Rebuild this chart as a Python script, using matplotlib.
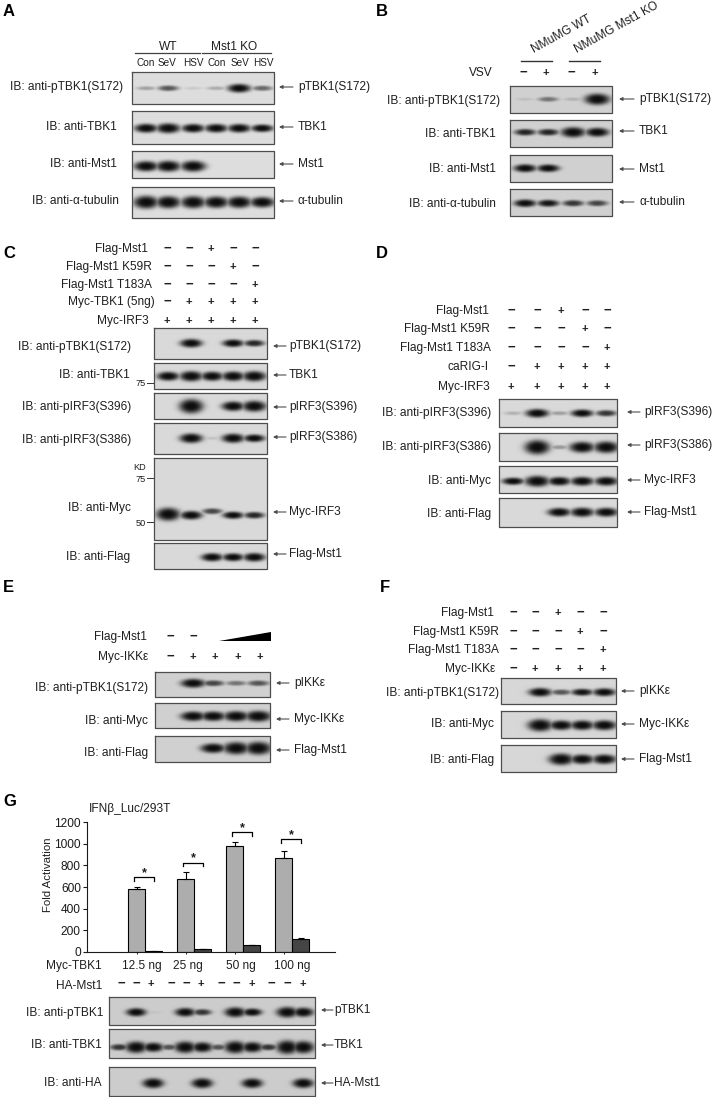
#!/usr/bin/env python3
"""
Immunoblot panels A-F plus the IFNb luciferase bar chart with blots (G).
Everything outside the bar chart is placed in image pixels on one full axes.
"""

import numpy as np
import matplotlib
matplotlib.use("Agg")
import matplotlib.pyplot as plt

plt.rcParams.update({
    "font.family": ["Liberation Sans", "DejaVu Sans"],
    "font.size": 8.5,
    "text.color": "0.12",
    "axes.edgecolor": "0.1",
    "xtick.color": "0.1",
    "ytick.color": "0.1",
})

W, H = 715, 1097
FS = 8.6
INK = "0.12"

# --------------------------------------------------------------------------- #
# Data: labels and band strengths (0 = no band, above 1 = thick saturated band)
# --------------------------------------------------------------------------- #
A_LEFT = ["IB: anti-pTBK1(S172)", "IB: anti-TBK1", "IB: anti-Mst1", "IB: anti-α-tubulin"]
A_RIGHT = ["pTBK1(S172)", "TBK1", "Mst1", "α-tubulin"]
A_GROUPS = ["WT", "Mst1 KO"]
A_LANES = ["Con", "SeV", "HSV", "Con", "SeV", "HSV"]
A_LEVELS = [[.18, .40, .06, .15, .85, .35],
            [.90, 1.05, .85, .85, .85, .70],
            [1.1, 1.2, 1.2, 0, 0, 0],
            [1.5, 1.4, 1.4, 1.3, 1.3, 1.15]]

B_LEFT = ["IB: anti-pTBK1(S172)", "IB: anti-TBK1", "IB: anti-Mst1", "IB: anti-α-tubulin"]
B_RIGHT = ["pTBK1(S172)", "TBK1", "Mst1", "α-tubulin"]
B_GROUPS = ["NMuMG WT", "NMuMG Mst1 KO"]
B_SIGNS = ["-", "+", "-", "+"]
B_LEVELS = [[.06, .30, .10, 1.25],
            [.55, .55, 1.1, .90],
            [.75, .70, 0, 0],
            [.70, .60, .50, .45]]

C_COND = ["Flag-Mst1", "Flag-Mst1 K59R", "Flag-Mst1 T183A", "Myc-TBK1 (5ng)", "Myc-IRF3"]
C_SIGNS = ["--+--", "---+-", "----+", "-++++", "+++++"]
C_LEFT = ["IB: anti-pTBK1(S172)", "IB: anti-TBK1", "IB: anti-pIRF3(S396)",
          "IB: anti-pIRF3(S386)", "IB: anti-Myc", "IB: anti-Flag"]
C_RIGHT = ["pTBK1(S172)", "TBK1", "pIRF3(S396)", "pIRF3(S386)", "Myc-IRF3", "Flag-Mst1"]
C_LEVELS = [[0, .85, 0, .70, .55],
            [.90, 1.1, .95, 1.0, 1.1],
            [0, 1.7, 0, 1.0, 1.2],
            [0, 1.0, .07, .95, .70],
            [1.5, .85, .45, .65, .55],
            [0, 0, .80, .75, .85]]

D_COND = ["Flag-Mst1", "Flag-Mst1 K59R", "Flag-Mst1 T183A", "caRIG-I", "Myc-IRF3"]
D_SIGNS = ["--+--", "---+-", "----+", "-++++", "+++++"]
D_LEFT = ["IB: anti-pIRF3(S396)", "IB: anti-pIRF3(S386)", "IB: anti-Myc", "IB: anti-Flag"]
D_RIGHT = ["pIRF3(S396)", "pIRF3(S386)", "Myc-IRF3", "Flag-Mst1"]
D_LEVELS = [[.12, .85, .18, .70, .50],
            [0, 1.7, .20, 1.2, 1.3],
            [.65, 1.2, .85, .90, .90],
            [0, 0, .85, .95, .90]]

E_COND = ["Flag-Mst1", "Myc-IKKε"]
E_SIGNS = ["--", "-++++"]
E_LEFT = ["IB: anti-pTBK1(S172)", "IB: anti-Myc", "IB: anti-Flag"]
E_RIGHT = ["pIKKε", "Myc-IKKε", "Flag-Mst1"]
E_LEVELS = [[0, .90, .45, .30, .40],
            [0, 1.0, 1.0, 1.1, 1.2],
            [0, 0, 1.0, 1.4, 1.5]]

F_COND = ["Flag-Mst1", "Flag-Mst1 K59R", "Flag-Mst1 T183A", "Myc-IKKε"]
F_SIGNS = ["--+--", "---+-", "----+", "-++++"]
F_LEFT = ["IB: anti-pTBK1(S172)", "IB: anti-Myc", "IB: anti-Flag"]
F_RIGHT = ["pIKKε", "Myc-IKKε", "Flag-Mst1"]
F_LEVELS = [[0, .85, .40, .60, .75],
            [0, 1.4, 1.0, 1.0, 1.05],
            [0, 0, 1.3, 1.0, 1.0]]

G_DOSES = ["12.5 ng", "25 ng", "50 ng", "100 ng"]
G_CTRL = [580, 675, 980, 865]
G_CTRL_ERR = [20, 60, 40, 70]
G_MST1 = [8, 22, 60, 120]
G_MST1_ERR = [0, 0, 2, 5]
G_BRACKET = [690, 826, 1107, 1042]
G_SIGNS = "--+--+--+--+"
G_LEFT = ["IB: anti-pTBK1", "IB: anti-TBK1", "IB: anti-HA"]
G_RIGHT = ["pTBK1", "TBK1", "HA-Mst1"]
G_LEVELS = [[0, .80, .03, 0, .85, .50, 0, 1.05, .70, 0, 1.15, .95],
            [.50, 1.3, .95, .40, 1.3, 1.05, .40, 1.4, 1.1, .50, 1.6, 1.4],
            [0, 0, 1.05, 0, 0, 1.05, 0, 0, 1.0, 0, 0, 1.0]]


# --------------------------------------------------------------------------- #
# Helpers
# --------------------------------------------------------------------------- #
def draw_blot(ax, box, lanes, band_y, levels, halfw=11, bg=0.85):
    """One membrane strip, bands rendered as soft ellipses. box = x0, y0, x1, y1."""
    x0, y0, x1, y1 = box
    xs = np.arange(x0, x1, 0.5)
    ys = np.arange(y0, y1, 0.5)
    xx, yy = np.meshgrid(xs, ys)
    dark = np.zeros_like(xx)
    band_ys = band_y if np.iterable(band_y) else [band_y] * len(lanes)
    for lane, by, lev in zip(lanes, band_ys, levels):
        if lev <= 0:
            continue
        w = halfw * (0.8 + 0.25 * min(lev, 1.2))
        h = 4.8 * (0.3 + 0.7 * lev)
        r2 = ((xx - lane) / w) ** 2 + ((yy - by) / h) ** 2
        blob = min(1.0, 1.6 * lev) * np.exp(-r2 ** 1.6)
        dark = np.maximum(dark, blob)
    img = bg - dark * (bg - 0.05)
    ax.imshow(img, extent=(x0, x1, y1, y0), cmap="gray", vmin=0, vmax=1,
              aspect="auto", interpolation="bilinear", zorder=1)
    ax.plot([x0, x1, x1, x0, x0], [y0, y0, y1, y1, y0], color="0.3", lw=0.9, zorder=2)


def arrow(ax, x0, x1, y):
    ax.annotate("", xy=(x0, y), xytext=(x1, y), zorder=3,
                arrowprops=dict(arrowstyle="-|>", color="0.3", lw=0.8,
                                mutation_scale=5, shrinkA=0, shrinkB=0))


def sign(ax, x, y, s):
    if s == "+":
        ax.text(x, y, "+", ha="center", va="center", fontsize=8, fontweight="bold")
    else:
        ax.text(x, y, "−", ha="center", va="center", fontsize=9.5, fontweight="bold")


def sign_rows(ax, labels, rights, ys, xs, rows):
    for lab, r, y, row in zip(labels, rights, ys, rows):
        ax.text(r, y, lab, ha="right", va="center", fontsize=FS)
        for x, s in zip(xs, row):
            sign(ax, x, y, s)


def side_labels(ax, left, left_x, left_y, right, arrow_x, text_x, right_y):
    for lab, x, y in zip(left, left_x, left_y):
        ax.text(x, y, lab, ha="right", va="center", fontsize=FS)
    for lab, y in zip(right, right_y):
        arrow(ax, arrow_x[0], arrow_x[1], y)
        ax.text(text_x, y, lab, ha="left", va="center", fontsize=FS)


def letter(ax, x, y, s):
    ax.text(x, y, s, ha="left", va="center", fontsize=12, fontweight="bold", color="black")


def panel_a(ax):
    letter(ax, 3, 11, "A")
    lanes = [146, 168, 193, 216, 239, 262]
    boxes = [(72, 104), (111, 144), (151, 178), (187, 218)]
    band_y = [88, 128, 166, 202]
    for (y0, y1), by, lev in zip(boxes, band_y, A_LEVELS):
        draw_blot(ax, (132, y0, 274, y1), lanes, by, lev, halfw=11.5, bg=0.87)
    ax.text(168, 47, A_GROUPS[0], ha="center", va="center", fontsize=FS)
    ax.text(234, 47, A_GROUPS[1], ha="center", va="center", fontsize=FS)
    ax.plot([135, 200], [53, 53], color="0.25", lw=0.9)
    ax.plot([202, 271], [53, 53], color="0.25", lw=0.9)
    for x, lab in zip([146, 167, 193, 217, 240, 263], A_LANES):
        ax.text(x, 63, lab, ha="center", va="center", fontsize=7.2)
    side_labels(ax, A_LEFT, [123, 117, 117, 119], [87, 127, 164, 201],
                A_RIGHT, (279, 293), 298, [87, 127, 164, 201])


def panel_b(ax):
    letter(ax, 376, 11, "B")
    lanes = [525, 548, 573, 597]
    boxes = [(86, 113), (120, 147), (155, 182), (189, 216)]
    band_y = [99, 132, 168, 203]
    for (y0, y1), by, lev in zip(boxes, band_y, B_LEVELS):
        draw_blot(ax, (510, y0, 612, y1), lanes, by, lev, halfw=11.5, bg=0.82)
    ax.text(562, 34, B_GROUPS[0], rotation=29, ha="center", va="center", fontsize=FS)
    ax.text(617, 28, B_GROUPS[1], rotation=29, ha="center", va="center", fontsize=FS)
    ax.plot([521, 552], [61, 61], color="0.2", lw=1.0)
    ax.plot([569, 600], [61, 61], color="0.2", lw=1.0)
    ax.text(493, 73, "VSV", ha="right", va="center", fontsize=FS)
    for x, s in zip([523, 546, 571, 595], B_SIGNS):
        sign(ax, x, 73, s)
    side_labels(ax, B_LEFT, [500, 496, 496, 496], [101, 134, 169, 204],
                B_RIGHT, (619, 634), 639, [99, 131, 169, 202])


def panel_c(ax):
    letter(ax, 3, 254, "C")
    sign_rows(ax, C_COND, [148, 152, 152, 155, 149], [249, 267, 285, 302, 321],
              [167, 189, 211, 233, 255], C_SIGNS)
    lanes = [168, 191, 212, 233, 254]
    boxes = [(328, 359), (363, 389), (393, 419), (423, 454), (458, 540), (543, 569)]
    band_y = [343, 376, 406, 438, [514, 515, 511, 515, 515], 557]
    for (y0, y1), by, lev in zip(boxes, band_y, C_LEVELS):
        draw_blot(ax, (154, y0, 267, y1), lanes, by, lev, halfw=11, bg=0.85)
    side_labels(ax, C_LEFT, [131, 130, 131, 131, 131, 130], [347, 375, 407, 440, 508, 557],
                C_RIGHT, (273, 286), 289, [346, 375, 407, 437, 512, 554])
    # molecular weight marks
    for y, lab in [(384, "75"), (479, "75"), (523, "50")]:
        ax.text(146, y, lab, ha="right", va="center", fontsize=6.6)
        ax.plot([147, 153], [y - 1, y - 1], color="0.2", lw=0.7)
    ax.text(140, 467, "KD", ha="center", va="center", fontsize=6.6)


def panel_d(ax):
    letter(ax, 376, 254, "D")
    sign_rows(ax, D_COND, [489, 490, 491, 489, 490], [311, 329, 348, 367, 387],
              [511, 537, 561, 585, 607], D_SIGNS)
    lanes = [513, 537, 559, 582, 606]
    boxes = [(399, 427), (433, 461), (466, 493), (498, 527)]
    band_y = [413, 447, 481, 512]
    for (y0, y1), by, lev in zip(boxes, band_y, D_LEVELS):
        draw_blot(ax, (499, y0, 617, y1), lanes, by, lev, halfw=11.5, bg=0.85)
    side_labels(ax, D_LEFT, [491] * 4, [413, 447, 481, 514],
                D_RIGHT, (627, 640), 644, [412, 445, 480, 512])


def panel_e(ax):
    letter(ax, 3, 588, "E")
    ax.text(147, 637, E_COND[0], ha="right", va="center", fontsize=FS)
    ax.text(148, 657, E_COND[1], ha="right", va="center", fontsize=FS)
    for x, s in zip([170, 193], E_SIGNS[0]):
        sign(ax, x, 637, s)
    for x, s in zip([170, 193, 215, 238, 260], E_SIGNS[1]):
        sign(ax, x, 657, s)
    ax.fill([219, 271, 271], [641, 641, 632], color="black", lw=0)
    lanes = [170, 193, 213, 236, 258]
    boxes = [(672, 697), (703, 728), (736, 762)]
    band_y = [683, 716, 748]
    for (y0, y1), by, lev in zip(boxes, band_y, E_LEVELS):
        draw_blot(ax, (155, y0, 270, y1), lanes, by, lev, halfw=12, bg=0.82)
    side_labels(ax, E_LEFT, [148] * 3, [688, 721, 753],
                E_RIGHT, (276, 289), 294, [683, 719, 750])


def panel_f(ax):
    letter(ax, 380, 588, "F")
    sign_rows(ax, F_COND, [494, 499, 499, 495], [613, 632, 650, 669],
              [513, 535, 558, 580, 603], F_SIGNS)
    lanes = [513, 540, 561, 582, 604]
    boxes = [(678, 704), (711, 738), (745, 772)]
    band_y = [692, 725, 759]
    for (y0, y1), by, lev in zip(boxes, band_y, F_LEVELS):
        draw_blot(ax, (501, y0, 616, y1), lanes, by, lev, halfw=11.5, bg=0.84)
    side_labels(ax, F_LEFT, [499, 494, 494], [693, 724, 760],
                F_RIGHT, (621, 634), 639, [691, 724, 759])


def panel_g(fig, ax):
    letter(ax, 3, 801, "G")
    ax.text(89, 809, "IFNβ_Luc/293T", ha="left", va="center", fontsize=FS)

    # bar chart axes, pixel box 87..335 x 822..952
    bx = fig.add_axes([87 / W, 1 - 951.7 / H, 248 / W, 129.4 / H])
    bx.patch.set_alpha(0)
    x = np.arange(len(G_DOSES))
    bw = 17 / 49
    zeros = [0] * len(x)
    bx.bar(x - bw / 2, G_CTRL, bw, color="0.68", edgecolor="black", lw=0.8,
           yerr=[zeros, G_CTRL_ERR], error_kw=dict(ecolor="black", lw=0.8, capsize=2, capthick=0.8))
    bx.bar(x + bw / 2, G_MST1, bw, color="0.27", edgecolor="black", lw=0.8,
           yerr=[zeros, G_MST1_ERR], error_kw=dict(ecolor="black", lw=0.8, capsize=2, capthick=0.8))
    bx.set_xlim((87 - 145) / 49, (335 - 145) / 49)
    bx.set_ylim(0, 1200)
    bx.set_yticks(range(0, 1201, 200))
    bx.set_xticks(x - bw / 2)
    bx.set_xticklabels([])
    bx.tick_params(axis="y", labelsize=8.6, length=3, width=0.8, pad=1.5)
    bx.tick_params(axis="x", length=1.5, width=0.7)
    for side in ("top", "right"):
        bx.spines[side].set_visible(False)
    for side in ("left", "bottom"):
        bx.spines[side].set_linewidth(0.8)
    for xi, top in zip(x, G_BRACKET):
        bx.plot([xi - bw * 0.62, xi - bw * 0.62, xi + bw * 0.5, xi + bw * 0.5],
                [top - 30, top, top, top - 30], color="black", lw=0.9, clip_on=False)
        bx.text(xi - bw * 0.06, top + 40, "*", ha="center", va="center", fontsize=9,
                fontweight="bold", clip_on=False)

    ax.text(48, 875, "Fold Activation", rotation=90, ha="center", va="center", fontsize=8.2)
    ax.text(102, 966, "Myc-TBK1", ha="right", va="center", fontsize=FS)
    for xp, lab in zip([142, 188, 241, 292], G_DOSES):
        ax.text(xp, 966, lab, ha="center", va="center", fontsize=FS)
    ax.text(102, 986, "HA-Mst1", ha="right", va="center", fontsize=FS)
    sign_x = [121, 136, 151, 171, 186, 201, 221, 236, 252, 271, 287, 303]
    for xp, s in zip(sign_x, G_SIGNS):
        sign(ax, xp, 984, s)

    lanes = [119, 136, 153, 169, 185, 202, 218, 235, 252, 268, 287, 303]
    boxes = [(997, 1025), (1029, 1058), (1067, 1096)]
    band_y = [1012, 1047, 1083]
    for (y0, y1), by, lev in zip(boxes, band_y, G_LEVELS):
        draw_blot(ax, (109, y0, 315, y1), lanes, by, lev, halfw=10, bg=0.80)
    side_labels(ax, G_LEFT, [103, 102, 101], [1013, 1045, 1083],
                G_RIGHT, (321, 333), 334, [1010, 1045, 1083])


def main():
    fig = plt.figure(figsize=(W / 100, H / 100), dpi=100)
    ax = fig.add_axes([0, 0, 1, 1])
    ax.axis("off")
    panel_a(ax)
    panel_b(ax)
    panel_c(ax)
    panel_d(ax)
    panel_e(ax)
    panel_f(ax)
    panel_g(fig, ax)
    # imshow moves the limits, so fix the pixel frame last
    ax.set_xlim(0, W)
    ax.set_ylim(H, 0)
    fig.savefig("out.png", dpi=100)


if __name__ == "__main__":
    main()
